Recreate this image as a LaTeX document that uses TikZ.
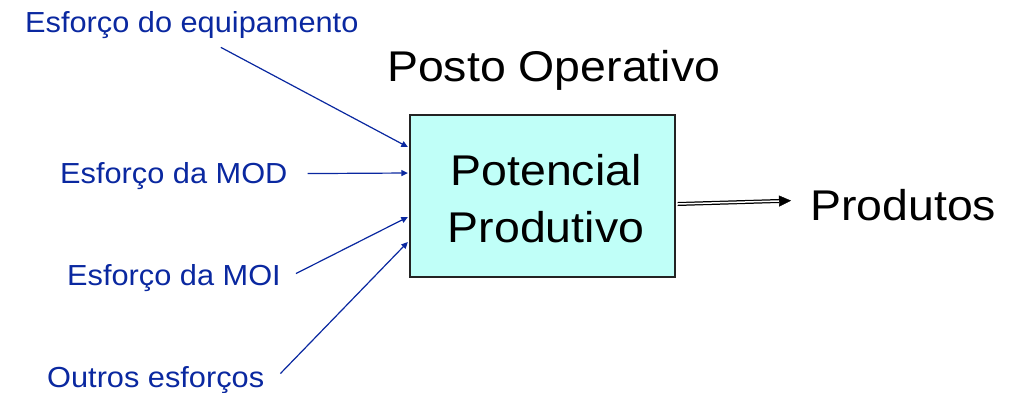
\documentclass[tikz,border=0pt]{standalone}
\usepackage{fontspec}
\setmainfont{Liberation Sans}
\newfontfamily\bigfam[FakeStretch=1.08]{Liberation Sans}
\newfontfamily\smallfam[FakeStretch=1.06]{Liberation Sans}
\usetikzlibrary{arrows.meta,calc}
\definecolor{lblblue}{RGB}{10,40,160}
\definecolor{boxfill}{RGB}{192,255,248}
\definecolor{boxedge}{RGB}{35,35,35}
\tikzset{
  smalltxt/.style={font=\smallfam\fontsize{29}{34}\selectfont, text=lblblue, inner sep=0pt, anchor=base west},
  bigtxt/.style={font=\bigfam\fontsize{43}{50}\selectfont, text=black, inner sep=0pt},
  inarrow/.style={draw=lblblue, line width=1.2pt, -{Triangle[length=6.5pt,width=6pt]}},
  outarrowouter/.style={draw=black, line width=4pt, -{Triangle[length=12pt,width=11pt,line width=0.4pt]}},
  outarrowinner/.style={draw=white, line width=1.5pt, shorten >=12pt, shorten <=-0.5pt},
  boxstyle/.style={draw=boxedge, line width=1.3pt, fill=boxfill, minimum width=265pt, minimum height=162pt, inner sep=0pt}
}
\begin{document}
\begin{tikzpicture}[x=1pt,y=-1pt]
\useasboundingbox (0,0) rectangle (1018,392);
\node[boxstyle] (box) at (542.5,196) {};
\node[bigtxt, anchor=base] (pot) at (546,185) {Potencial};
\node[bigtxt, anchor=base] (prd) at (546,242) {Produtivo};
\node[bigtxt, anchor=base west] (posto) at (387,81) {Posto Operativo};
\node[bigtxt, anchor=base west] (prod) at (810,220) {Produtos};
\node[smalltxt] (eq) at (25,32) {Esforço do equipamento};
\node[smalltxt] (mod) at (60,183) {Esforço da MOD};
\node[smalltxt] (moi) at (67,285) {Esforço da MOI};
\node[smalltxt] (out) at (47,387) {Outros esforços};
\draw[inarrow] ([xshift=29pt,yshift=-9pt]eq.south) -- ([xshift=-1.5pt,yshift=49pt]box.west);
\draw[inarrow] ([xshift=20pt,yshift=2pt]mod.east) -- ([xshift=-1.5pt,yshift=23pt]box.west);
\draw[inarrow] ([xshift=15pt,yshift=4pt]moi.east) -- ([xshift=-1.5pt,yshift=-21pt]box.west);
\draw[inarrow] ([xshift=16pt,yshift=6pt]out.east) -- ([xshift=-1.5pt,yshift=-46pt]box.west);
\draw[outarrowouter] ([xshift=2pt,yshift=-8pt]box.east) -- ([xshift=-19pt,yshift=4pt]prod.west);
\draw[outarrowinner] ([xshift=2pt,yshift=-8pt]box.east) -- ([xshift=-19pt,yshift=4pt]prod.west);
\end{tikzpicture}
\end{document}
